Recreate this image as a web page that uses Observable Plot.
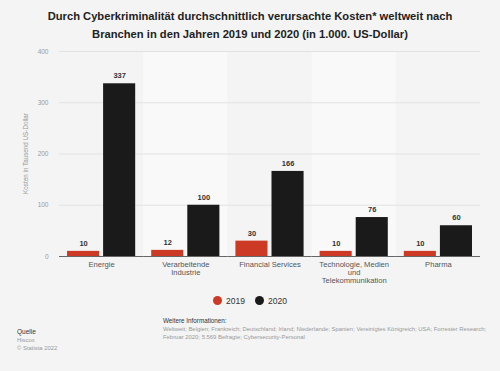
<!DOCTYPE html>
<html><head><meta charset="utf-8">
<script src="https://cdn.jsdelivr.net/npm/d3@7"></script>
<script src="https://cdn.jsdelivr.net/npm/@observablehq/plot@0.6"></script>
<style>
body{margin:0;background:#f4f4f4;font-family:"Liberation Sans",Arial,sans-serif;}
#wrap{position:relative;width:500px;height:371px;overflow:hidden;background:#f4f4f4;}
#title{position:absolute;left:0;top:7px;width:500px;text-align:center;font-weight:bold;font-size:11.2px;line-height:18px;color:#222;}
#chart{position:absolute;left:0;top:0;}
#legend{position:absolute;top:296px;left:0;width:500px;text-align:center;font-size:8.5px;color:#333;}
#legend span.dot{display:inline-block;width:9px;height:9px;border-radius:50%;vertical-align:-1px;margin-right:4px;}
#legend span.item{margin:0 5px;}
.foot{position:absolute;font-size:5.9px;color:#999;line-height:8px;white-space:nowrap;}
.foot b{color:#333;font-weight:normal;}
</style></head>
<body><div id="wrap">
<div id="title">Durch Cyberkriminalität durchschnittlich verursachte Kosten* weltweit nach<br>Branchen in den Jahren 2019 und 2020 (in 1.000. US-Dollar)</div>
<div id="chart"></div>
<div id="legend"></div>
<div class="foot" style="left:17px;top:328px;"><b style="font-size:6.5px">Quelle</b><br>Hiscox<br>© Statista 2022</div>
<div class="foot" style="left:163px;top:317px;"><b style="font-size:6.3px">Weitere Informationen:</b><br>Weltweit; Belgien; Frankreich; Deutschland; Irland; Niederlande; Spanien; Vereinigtes Königreich; USA; Forrester Research;<br>Februar 2020; 5.569 Befragte; Cybersecurity-Personal</div>
</div>
<script>
const industries = ["Energie", "Verarbeitende Industrie", "Financial Services", "Technologie, Medien und Telekommunikation", "Pharma"];
const industryLabels = ["Energie", "Verarbeitende\nIndustrie", "Financial Services", "Technologie, Medien\nund\nTelekommunikation", "Pharma"];
const years = ["2019", "2020"];
const values2019 = [10, 12, 30, 10, 10];
const values2020 = [337, 100, 166, 76, 60];
const yTicks = [0, 100, 200, 300, 400];
const colors = ["#cc3a26", "#1a1a1a"];

const data = [];
industries.forEach((ind, i) => {
  data.push({industry: ind, year: "2019", value: values2019[i]});
  data.push({industry: ind, year: "2020", value: values2020[i]});
});
const bands = industries.map((ind, i) => ({industry: ind, shade: i % 2 === 1}));
const labelOf = Object.fromEntries(industries.map((d, i) => [d, industryLabels[i]]));

const chart = Plot.plot({
  width: 500,
  height: 300,
  marginTop: 51,
  marginBottom: 44,
  marginLeft: 59,
  marginRight: 20,
  style: {background: "transparent", fontFamily: "Liberation Sans, Arial, sans-serif"},
  fx: {domain: industries, padding: 0, label: null, round: false},
  x: {domain: years, paddingInner: 0.111, paddingOuter: 0.222, axis: null, round: false},
  y: {domain: [0, 400], label: null},
  color: {domain: years, range: colors},
  marks: [
    Plot.rectY(bands, {fx: "industry", y1: 0, y2: 400, fill: d => d.shade ? "#f9f9f9" : "#f4f4f4"}),
    Plot.gridY(yTicks.slice(1), {stroke: "#e2e2e2", strokeOpacity: 1, strokeWidth: 1}),
    Plot.axisY(yTicks, {tickSize: 0, tickPadding: 11, fontSize: 6.5, fill: "#999", label: null}),
    Plot.axisFx({anchor: "bottom", tickSize: 0, tickPadding: 5, fontSize: 7.6, fill: "#555", lineHeight: 1.05, tickFormat: d => labelOf[d], label: null}),
    Plot.barY(data, {fx: "industry", x: "year", y: "value", fill: "year"}),
    Plot.text(data, {fx: "industry", x: "year", y: "value", text: d => String(d.value), dy: -8, fontSize: 7.5, fontWeight: "bold", fill: "#333"}),
    Plot.ruleY([0], {stroke: "#666", strokeWidth: 1})
  ]
});
document.getElementById("chart").appendChild(chart);

// y axis title
const svg = d3.select(chart);
svg.append("text")
  .attr("transform", "translate(28,153.5) rotate(-90)")
  .attr("text-anchor", "middle")
  .attr("font-size", 6.3)
  .attr("fill", "#999")
  .text("Kosten in Tausend US-Dollar");

const legend = document.getElementById("legend");
legend.innerHTML = years.map((y, i) => `<span class="item"><span class="dot" style="background:${colors[i]}"></span>${y}</span>`).join("");
</script>
</body></html>
